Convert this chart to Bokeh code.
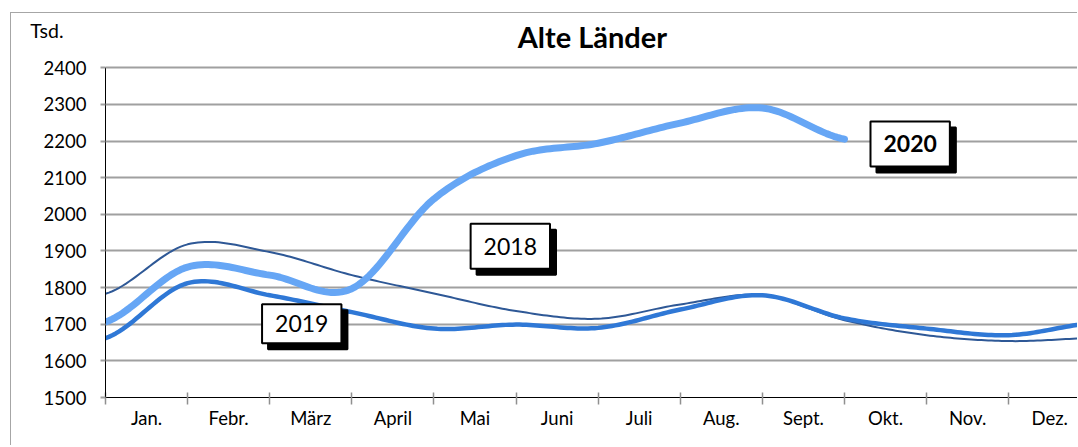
import numpy as np
from bokeh.plotting import figure
from bokeh.models import Range1d, FixedTicker, Label, LinearAxis
from bokeh.embed import file_html
from bokeh.resources import INLINE

# ---- data ----
months = ["Jan.", "Febr.", "März", "April", "Mai", "Juni", "Juli", "Aug.", "Sept.", "Okt.", "Nov.", "Dez."]
y_ticks = [1500, 1600, 1700, 1800, 1900, 2000, 2100, 2200, 2300, 2400]
# values at the month boundaries (13 points for complete years, cut off at right edge)
v2018 = [1783, 1918, 1897, 1834, 1784, 1736, 1715, 1754, 1779, 1711, 1670, 1654, 1662]
v2019 = [1662, 1812, 1779, 1733, 1688, 1699, 1690, 1740, 1779, 1716, 1688, 1670, 1702]
v2020 = [1706, 1856, 1834, 1797, 2042, 2160, 2194, 2249, 2290, 2205]
series_names = ["2018", "2019", "2020"]
colors = ["#2E5896", "#2F78D6", "#66A6F5"]
widths = [2, 4.5, 7]
title_text = "Alte Länder"
unit_text = "Tsd."

FONT = "Lato"


def smooth(vals, n=24):
    """Excel-like smoothed line (Catmull-Rom Bezier) through the data points."""
    x = np.arange(len(vals), dtype=float)
    y = np.asarray(vals, dtype=float)
    xs, ys = [], []
    for i in range(len(y) - 1):
        p0 = y[i - 1] if i > 0 else y[i]
        p1, p2 = y[i], y[i + 1]
        p3 = y[i + 2] if i + 2 < len(y) else y[i + 1]
        b1 = p1 + (p2 - p0) / 6.0
        b2 = p2 - (p3 - p1) / 6.0
        t = np.linspace(0, 1, n, endpoint=(i == len(y) - 2))
        by = (1 - t) ** 3 * p1 + 3 * (1 - t) ** 2 * t * b1 + 3 * (1 - t) * t ** 2 * b2 + t ** 3 * p2
        xs.extend(x[i] + t)
        ys.extend(by)
    return xs, ys


# frame extends above the axis top so title and unit can sit inside it
p = figure(width=1067, height=433, output_backend="svg", toolbar_location=None,
           x_range=Range1d(0, 11.85), y_range=Range1d(1500, 2548),
           min_border_left=94, min_border_right=0, min_border_top=0, min_border_bottom=49)
p.styles = {"border-top": "1px solid #a6a6a6", "border-left": "1px solid #a6a6a6",
            "margin-left": "10px", "margin-top": "12px"}
p.outline_line_color = None
p.background_fill_color = "white"
p.border_fill_color = "white"

# grid
p.xgrid.grid_line_color = None
p.ygrid.grid_line_color = "#a0a0a0"
p.ygrid.grid_line_width = 2
p.ygrid.ticker = FixedTicker(ticks=y_ticks)

# y axis
p.yaxis.ticker = FixedTicker(ticks=y_ticks)
p.yaxis.bounds = (y_ticks[0], y_ticks[-1])
p.yaxis.axis_line_color = "black"
p.yaxis.axis_line_width = 1
p.yaxis.major_tick_in = 0
p.yaxis.major_tick_out = 5
p.yaxis.major_tick_line_color = "#a0a0a0"
p.yaxis.major_tick_line_width = 2
p.yaxis.minor_tick_line_color = None
p.yaxis.major_label_text_font = FONT
p.yaxis.major_label_text_font_size = "18.5px"
p.yaxis.major_label_text_color = "black"
p.yaxis.major_label_standoff = 14

# unit as a second (invisible) left axis with a single label
unit_pos = 2502
unit_axis = LinearAxis(ticker=FixedTicker(ticks=[unit_pos]),
                       major_label_overrides={unit_pos: unit_text})
unit_axis.axis_line_color = None
unit_axis.major_tick_line_color = None
unit_axis.minor_tick_line_color = None
unit_axis.major_tick_out = 0
unit_axis.major_tick_in = 0
unit_axis.major_label_text_font = FONT
unit_axis.major_label_text_font_size = "19.5px"
unit_axis.major_label_text_color = "black"
unit_axis.major_label_standoff = -23
p.add_layout(unit_axis, "left")

# x axis
centers = [i + 0.5 for i in range(len(months))]
p.xaxis.ticker = FixedTicker(ticks=centers, minor_ticks=list(range(len(months) + 1)))
p.xaxis.major_label_overrides = {c: m for c, m in zip(centers, months)}
p.xaxis.axis_line_color = "black"
p.xaxis.axis_line_width = 1
p.xaxis.major_tick_line_color = None
p.xaxis.major_tick_in = 0
p.xaxis.major_tick_out = 0
p.xaxis.minor_tick_line_color = "#909090"
p.xaxis.minor_tick_line_width = 1.5
p.xaxis.minor_tick_in = 5
p.xaxis.minor_tick_out = 7
p.xaxis.major_label_text_font = FONT
p.xaxis.major_label_text_font_size = "18.5px"
p.xaxis.major_label_text_color = "black"
p.xaxis.major_label_standoff = 2

# lines
for vals, col, w in zip([v2018, v2019, v2020], colors, widths):
    xs, ys = smooth(vals)
    p.line(xs, ys, line_color=col, line_width=w, line_cap="round", line_join="round")

# title
p.add_layout(Label(x=5.93, y=2485, text=title_text, text_font=FONT, text_font_style="bold",
                   text_font_size="29px", text_align="center", text_baseline="middle",
                   text_color="black"))

# boxed series labels with shadows
box_pos = {"2018": (4.93, 1913, "normal", 14), "2019": (2.39, 1701, "normal", 11),
           "2020": (9.80, 2192, "bold", 14)}
for name in series_names:
    bx, by, style, pv = box_pos[name]
    pad = dict(left=13, right=13, top=pv, bottom=pv)
    shadow = Label(x=bx, y=by, x_offset=6, y_offset=-6, text=name, text_font=FONT,
                   text_font_size="23px", text_font_style=style, text_align="center",
                   text_baseline="middle", text_color="black", background_fill_color="black",
                   border_line_color="black", border_line_width=2, padding=pad)
    box = Label(x=bx, y=by, text=name, text_font=FONT, text_font_size="23px",
                text_font_style=style, text_align="center", text_baseline="middle",
                text_color="black", background_fill_color="white",
                border_line_color="black", border_line_width=2, padding=pad)
    p.add_layout(shadow)
    p.add_layout(box)

open("out.html", "w").write(file_html(p, INLINE))
